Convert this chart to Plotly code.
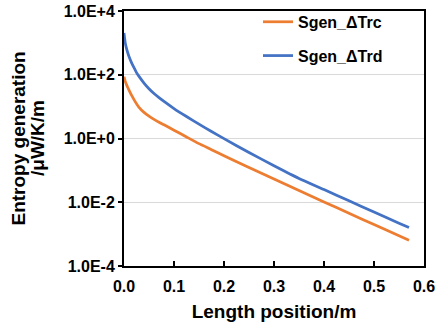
import plotly.graph_objects as go

# Length position (m)
length_pos = [0.0, 0.0025, 0.005, 0.0075, 0.01, 0.015, 0.02, 0.025, 0.03, 0.04,
              0.05, 0.06, 0.07, 0.08, 0.1, 0.125, 0.15, 0.175, 0.2, 0.25,
              0.3, 0.35, 0.4, 0.45, 0.5, 0.55, 0.57]
# Entropy generation (μW/K/m)
sgen_trc = [87, 61.7, 49, 39.8, 33.1, 22.9, 16.6, 12.3, 9.55, 6.6,
            5.0, 3.98, 3.24, 2.69, 1.82, 1.12, 0.69, 0.447, 0.288, 0.123,
            0.0537, 0.0234, 0.0102, 0.00452, 0.002, 0.00089, 0.000646]
sgen_trd = [2040, 1000, 676, 490, 372, 240, 166, 117, 89, 55,
            36.3, 25.7, 19.1, 14.5, 8.7, 4.9, 2.82, 1.66, 0.99, 0.363,
            0.14, 0.056, 0.0251, 0.0111, 0.0049, 0.00221, 0.00162]

series_names = ["Sgen_ΔTrc", "Sgen_ΔTrd"]
series_colors = ["#ED7D31", "#4472C4"]

x_tickvals = [0.0, 0.1, 0.2, 0.3, 0.4, 0.5, 0.6]
x_ticktext = ["0.0", "0.1", "0.2", "0.3", "0.4", "0.5", "0.6"]
y_tickvals = [1e-4, 1e-2, 1, 1e2, 1e4]
y_ticktext = ["1.0E-4", "1.0E-2", "1.0E+0", "1.0E+2", "1.0E+4"]

FONT = "Liberation Sans, Arial, sans-serif"
L, R, T, B = 124, 12, 11, 62
PW = 436 - L - R

fig = go.Figure()
for name, vals, col, grp in zip(series_names, [sgen_trc, sgen_trd], series_colors, ["a", "b"]):
    fig.add_trace(go.Scatter(
        x=length_pos, y=vals, mode="lines", name=name, legendgroup=grp,
        line=dict(color=col, width=2.75, shape="spline", smoothing=0.5),
    ))

fig.update_layout(
    width=436, height=328,
    margin=dict(l=L, r=R, t=T, b=B, autoexpand=False),
    paper_bgcolor="white", plot_bgcolor="white",
    font=dict(family=FONT, color="black", size=16, weight="bold"),
    showlegend=True,
    legend=dict(
        x=(258 - L) / PW, y=1.024, xanchor="left", yanchor="top",
        bgcolor="rgba(0,0,0,0)", borderwidth=0,
        font=dict(family=FONT, size=16, color="black", weight="bold"),
        traceorder="grouped", tracegroupgap=10,
    ),
    xaxis=dict(
        range=[0, 0.6], tickvals=x_tickvals, ticktext=x_ticktext,
        showline=True, linecolor="black", linewidth=2, mirror=True,
        ticks="inside", ticklen=5, tickwidth=1.5, tickcolor="black",
        showgrid=False, zeroline=False, automargin=False,
        ticklabelstandoff=5, ticklabeloverflow="allow",
        tickfont=dict(family=FONT, size=16, weight="bold"),
        title=dict(text="Length position/m", standoff=10,
                   font=dict(family=FONT, size=19, weight="bold")),
    ),
    yaxis=dict(
        type="log", range=[-4, 4],
        tickvals=y_tickvals, ticktext=y_ticktext,
        showline=True, linecolor="black", linewidth=2, mirror=True,
        ticks="outside", ticklen=4, tickwidth=1.5, tickcolor="black",
        showgrid=True, gridcolor="#D9D9D9", gridwidth=1, zeroline=False,
        automargin=False, ticklabeloverflow="allow",
        tickfont=dict(family=FONT, size=16, weight="bold"),
    ),
    annotations=[
        dict(text="Entropy generation", xref="paper", yref="paper",
             x=(18 - L) / PW, y=0.5, xanchor="center", yanchor="middle",
             textangle=-90, showarrow=False,
             font=dict(family=FONT, size=19, weight="bold")),
        dict(text="/μW/K/m", xref="paper", yref="paper",
             x=(37.5 - L) / PW, y=0.5, xanchor="center", yanchor="middle",
             textangle=-90, showarrow=False,
             font=dict(family=FONT, size=19, weight="bold")),
    ],
)

fig.write_html("out.html", config={"displayModeBar": False},
               post_script="document.body.style.margin='0';document.body.style.padding='0';")
